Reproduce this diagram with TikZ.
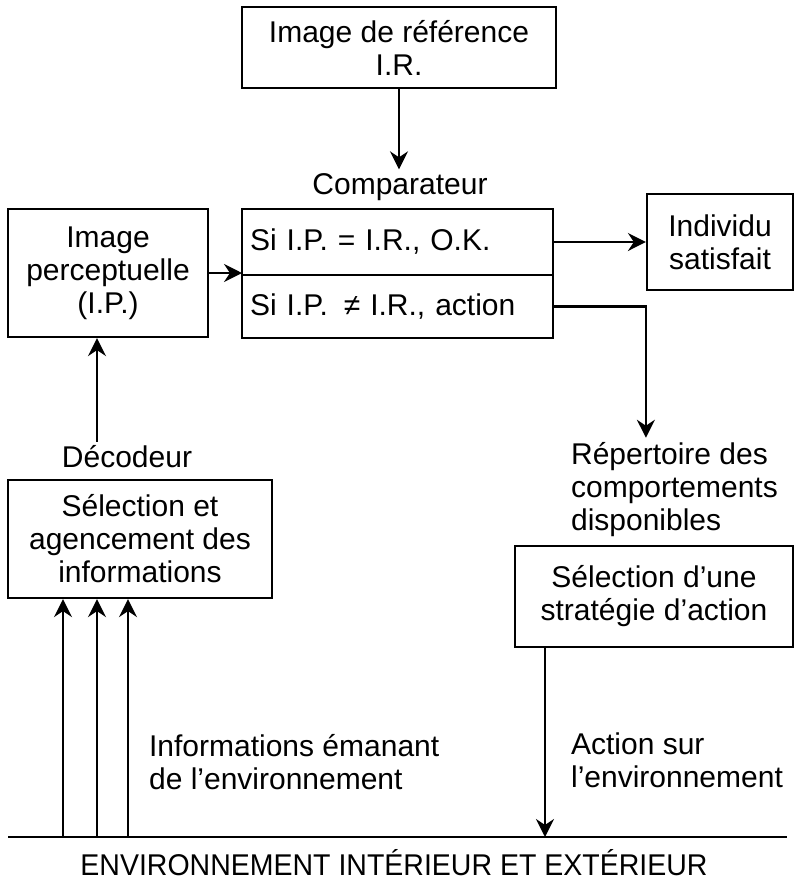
\documentclass[tikz,border=0pt]{standalone}
\usepackage{fontspec}
\setmainfont{Liberation Sans}
\usetikzlibrary{arrows.meta}
\usetikzlibrary{calc}

\begin{document}
\begin{tikzpicture}[x=1pt,y=-1pt,
		font=\fontsize{30}{33}\selectfont,
		line width=2.2pt,
		box/.style={draw,align=center,inner sep=0pt},
		cmp/.style={draw,anchor=north west,text width=295,align=left,inner xsep=8,inner ysep=0,outer sep=0},
		lbl/.style={inner sep=3pt},
		arr/.style={-{Stealth[length=18pt,width=18pt,inset=6pt]}}]
				\useasboundingbox (0,0) rectangle (794,884);
				\def\ybase{837};
				\def\xleft{8};
				\def\xright{787};
				\node[box,minimum width=314,minimum height=81] (ref) at (399,47.5) {Image de référence\\I.R.};
				\node[lbl] (cmplbl) at (400,187) {Comparateur};
				\node[cmp,minimum height=66] (cmpok) at (242,209) {Si I.P. = I.R., O.K.};
				\node[cmp,minimum height=63] (cmpno) at (cmpok.south west) {Si I.P.\hspace{6pt} ≠ I.R., action};
				\node[box,minimum width=200,minimum height=128] (ip) at (108,273) {Image\\perceptuelle\\(I.P.)};
				\node[box,minimum width=146,minimum height=96] (indiv) at (720,242) {Individu\\satisfait};
				\node[lbl] (declbl) at (127,457) {Décodeur};
				\node[box,minimum width=264,minimum height=118] (sel) at (140,539) {Sélection et\\agencement des\\informations};
				\node[lbl,anchor=west,align=left,inner sep=4pt] (rep) at (566,490) {Répertoire des\\comportements\\disponibles};
				\node[box,minimum width=278,minimum height=101] (strat) at (654,596.5) {Sélection d’une\\stratégie d’action};
				\node[lbl,anchor=west,align=left] (infolbl) at (145,762) {Informations émanant\\de l’environnement};
				\node[lbl,anchor=west,align=left] (actlbl) at (567,760) {Action sur\\l’environnement};
				\node[lbl] (env) at (394,863) {\scalebox{0.95}[1]{ENVIRONNEMENT INTÉRIEUR ET EXTÉRIEUR}};
				\coordinate (envL) at (\xleft,\ybase);
				\coordinate (envR) at (\xright,\ybase);
				\draw (envL) -- (envR);
				\draw[arr] (ref.south) -- (ref.south |- cmplbl.north);
				\draw[arr] (ip.east) -- (ip.east -| cmpok.west);
				\draw[arr] (cmpok.east) -- (indiv.west);
				\draw[arr] (cmpno.east) -| (rep.north -| indiv.west);
				\draw[arr] ([xshift=-30]declbl.north) -- ([xshift=-30]declbl.north |- ip.south);
				\foreach \dx in {-77,-43,-12}
					\draw[arr] ([xshift=\dx]sel.south |- envL) -- ([xshift=\dx]sel.south);
				\draw[arr] ([xshift=-109]strat.south) -- ([xshift=-109]strat.south |- envL);
			\end{tikzpicture}
\end{document}
